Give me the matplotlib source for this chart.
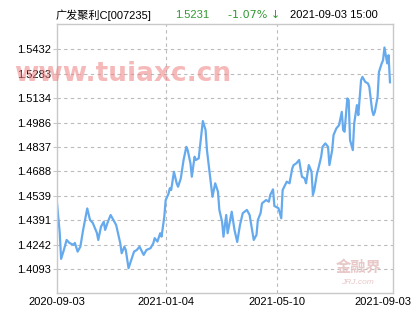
import matplotlib
matplotlib.use("Agg")
import matplotlib.pyplot as plt
import matplotlib.transforms as mtransforms

plt.rcParams['font.family'] = ['Liberation Sans', 'Noto Sans CJK SC', 'DejaVu Sans']

# trading-day index (0 = 2020-09-03) and unit NAV
day = [0, 2, 3, 5, 7, 9, 12, 13, 15, 17, 19, 22, 24, 26, 29, 30, 32, 34, 35, 37,
       39, 41, 43, 46, 47, 49, 50, 52, 54, 56, 58, 60, 63, 65, 68, 70, 71, 73, 75, 76,
       78, 79, 81, 82, 83, 85, 87, 88, 90, 92, 94, 95, 97, 98, 100, 101, 103, 105, 106, 108,
       109, 111, 113, 115, 117, 118, 120, 121, 123, 124, 127, 129, 131, 133, 135, 138, 140, 143, 145, 146,
       148, 149, 152, 154, 155, 157, 158, 161, 163, 164, 167, 169, 171, 172, 174, 176, 178, 180, 181, 183,
       185, 186, 187, 189, 190, 192, 193, 195, 197, 198, 200, 201, 203, 205, 207, 208, 209, 211, 212, 213,
       215, 216, 218, 219, 221, 222, 224, 226, 227, 229, 230, 231, 233, 234, 236, 237, 238, 240, 241, 242]
nav = [1.4496, 1.4314, 1.4156, 1.4210, 1.4271, 1.4253, 1.4241, 1.4253, 1.4200, 1.4230,
       1.4332, 1.4463, 1.4393, 1.4375, 1.4314, 1.4271, 1.4352, 1.4382, 1.4332, 1.4382,
       1.4423, 1.4393, 1.4362, 1.4251, 1.4190, 1.4230, 1.4210, 1.4099, 1.4150, 1.4200,
       1.4210, 1.4230, 1.4180, 1.4210, 1.4221, 1.4251, 1.4282, 1.4261, 1.4312, 1.4291,
       1.4413, 1.4514, 1.4551, 1.4586, 1.4575, 1.4686, 1.4616, 1.4595, 1.4646, 1.4758,
       1.4838, 1.4818, 1.4738, 1.4656, 1.4778, 1.4758, 1.4768, 1.4920, 1.4995, 1.4940,
       1.4818, 1.4677, 1.4534, 1.4616, 1.4565, 1.4454, 1.4381, 1.4291, 1.4423, 1.4312,
       1.4443, 1.4332, 1.4259, 1.4362, 1.4434, 1.4454, 1.4423, 1.4271, 1.4302, 1.4393,
       1.4435, 1.4494, 1.4514, 1.4504, 1.4545, 1.4579, 1.4478, 1.4464, 1.4403, 1.4575,
       1.4626, 1.4616, 1.4707, 1.4727, 1.4738, 1.4758, 1.4656, 1.4646, 1.4616, 1.4727,
       1.4686, 1.4545, 1.4575, 1.4677, 1.4707, 1.4778, 1.4838, 1.4859, 1.4838, 1.4727,
       1.4818, 1.4910, 1.4950, 1.4970, 1.5051, 1.4940, 1.4930, 1.5133, 1.5122, 1.4879,
       1.4818, 1.4981, 1.5092, 1.5031, 1.5244, 1.5264, 1.5234, 1.5224, 1.5203, 1.5062,
       1.5031, 1.5051, 1.5142, 1.5294, 1.5346, 1.5366, 1.5443, 1.5346, 1.5396, 1.5231]

y_ticks = [1.4093, 1.4242, 1.4391, 1.4539, 1.4688, 1.4837, 1.4986, 1.5134, 1.5283, 1.5432]
x_ticks = [0, 79, 160, 244]
x_labels = ["2020-09-03", "2021-01-04", "2021-05-10", "2021-09-03"]

fig = plt.figure(figsize=(4.15, 3.3), dpi=100)
ax = fig.add_axes([0.1373, 0.1121, 0.809, 0.8152])

ax.plot(day, nav, color="#66aaee", linewidth=1.6, solid_joinstyle="round")

ax.set_xlim(0, 244)
ax.set_ylim(1.3948, 1.5586)
ax.set_yticks(y_ticks)
ax.set_yticklabels([f"{v:.4f}" for v in y_ticks])
ax.set_xticks(x_ticks)
ax.set_xticklabels(x_labels)

for v in y_ticks:
    ax.axhline(v, color="#bbbbbb", linewidth=0.8, linestyle=(0, (3, 3)), zorder=0)
for d in x_ticks[1:3]:
    ax.axvline(d, color="#bbbbbb", linewidth=0.8, linestyle=(0, (3, 3)), zorder=0)

for s in ax.spines.values():
    s.set_color("#c8c8c8")
    s.set_linewidth(1.0)
ax.tick_params(axis="y", length=3, color="#c8c8c8", labelsize=8, pad=1)
ax.tick_params(axis="x", length=0, labelsize=8, pad=3)

lbls = ax.get_xticklabels()
lbls[-1].set_horizontalalignment("right")
lbls[-1].set_transform(lbls[-1].get_transform() +
                       mtransforms.ScaledTranslation(0.19, 0, fig.dpi_scale_trans))

# header line
fig.text(0.133, 0.955, "广发聚利C[007235]", fontsize=8, color="black", va="center")
fig.text(0.422, 0.955, "1.5231", fontsize=8, color="#339933", va="center")
fig.text(0.549, 0.955, "-1.07% ↓", fontsize=8, color="#339933", va="center",
         family=["DejaVu Sans"])
fig.text(0.699, 0.955, "2021-09-03 15:00", fontsize=8, color="black", va="center")

# watermarks
fig.text(0.035, 0.775, "www.tuiaxc.cn", fontsize=19, fontweight="bold",
         color="#f08080", alpha=0.55, va="center", family=["DejaVu Sans"])
fig.text(0.865, 0.19, "金融界", fontsize=11, fontweight="bold", color="#e8c8c8",
         ha="center", va="center", family=["Noto Sans CJK SC"])
fig.text(0.86, 0.145, "JRJ.com", fontsize=6, fontstyle="italic", color="#e8c8c8",
         ha="center", va="center")

fig.savefig("out.png", dpi=100)
